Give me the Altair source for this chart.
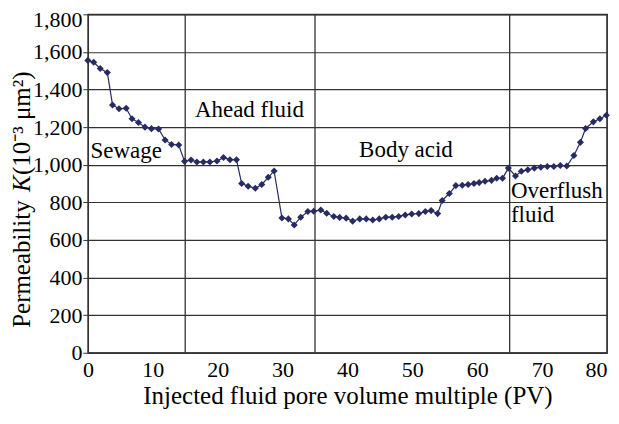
import altair as alt
import pandas as pd

pv = [0, 0.9, 1.9, 3.0, 3.8, 4.8, 5.9, 6.8, 7.8, 8.8, 9.8, 10.9, 11.9, 12.9, 14.0,
      14.9, 15.9, 16.8, 17.8, 18.8, 19.9, 20.9, 21.9, 22.9, 23.7, 24.7, 25.8, 26.8, 27.8, 28.7,
      29.9, 30.9, 31.8, 32.8, 33.9, 34.8, 35.9, 36.8, 37.9, 38.8, 39.8, 40.8, 41.9, 42.9, 43.9,
      44.9, 45.9, 46.9, 47.9, 48.9, 49.9, 51.0, 52.0, 52.9, 53.9, 54.6, 55.7, 56.7, 57.7, 58.6,
      59.5, 60.3, 61.2, 62.2, 63.0, 63.9, 64.8, 65.9, 66.8, 67.8, 68.8, 69.8, 70.8, 71.8, 72.8,
      73.8, 74.9, 75.9, 76.7, 77.9, 78.9, 79.9]
perm = [1555, 1545, 1512, 1490, 1318, 1298, 1300, 1245, 1225, 1200, 1192, 1190, 1132, 1108, 1105,
        1018, 1025, 1015, 1015, 1015, 1020, 1038, 1027, 1027, 900, 886, 875, 895, 933, 967,
        717, 712, 680, 721, 751, 753, 759, 742, 725, 720, 716, 700, 712, 712, 706,
        712, 721, 721, 725, 733, 738, 740, 751, 756, 740, 810, 847, 889, 891, 895,
        900, 905, 912, 917, 928, 928, 982, 940, 965, 973, 982, 987, 991, 991, 996,
        993, 1049, 1119, 1193, 1228, 1245, 1263]

stage_bounds = [15, 35, 65, 80]
labels = ["Sewage", "Ahead fluid", "Body acid", "Overflush", "fluid"]
label_x = [0.4, 16.5, 41.8, 65.2, 65.2]
label_y = [1074, 1290, 1078, 862, 732]

x_ticks = list(range(0, 81, 10))
y_ticks = list(range(0, 1801, 200))

y_title_parts = ["Permeability ", "K", " (10⁻³ μm²)"]
y_title_styles = ["normal", "italic", "normal"]

FONT = "Liberation Serif"
NAVY = "#282b62"
GRID = "#333333"

df = pd.DataFrame({"pv": pv, "k": perm})
bounds = pd.DataFrame({"b": stage_bounds})
ann = pd.DataFrame({"t": labels, "x": label_x, "y": label_y})

xs = alt.Scale(domain=[0, 80], nice=False)
ys = alt.Scale(domain=[0, 1800], nice=False)

x_axis = alt.Axis(values=x_ticks, title="Injected fluid pore volume multiple (PV)",
                  grid=False, ticks=False, labelPadding=7, titlePadding=3,
                  labelOverlap=False,
                  labelAlign=alt.ExprRef(expr="datum.value == 80 ? 'right' : 'center'"))
y_axis = alt.Axis(values=y_ticks, format=",d", title=None,
                  grid=True, ticks=True, tickSize=5, labelPadding=1,
                  labelOverlap=False, labelFlush=False,
                  labelOffset=alt.ExprRef(expr="datum.value == 1800 ? 5 : 0"))

X = alt.X("pv:Q", scale=xs, axis=x_axis)
Y = alt.Y("k:Q", scale=ys, axis=y_axis)

line = alt.Chart(df).mark_line(color=NAVY, strokeWidth=1.2).encode(x=X, y=Y)
pts = alt.Chart(df).mark_point(shape="diamond", filled=True, color=NAVY, size=50, opacity=1).encode(x=X, y=Y)
rules = alt.Chart(bounds).mark_rule(color=GRID, strokeWidth=1.3).encode(
    x=alt.X("b:Q", scale=xs, axis=x_axis)
)
text = alt.Chart(ann).mark_text(align="left", baseline="middle", font=FONT, fontSize=23, color="black").encode(
    x=alt.X("x:Q", scale=xs, axis=x_axis), y=alt.Y("y:Q", scale=ys, axis=y_axis), text="t:N"
)

title_layers = []
offsets = [0, 136, 153]
for part, style, off in zip(y_title_parts, y_title_styles, offsets):
    title_layers.append(
        alt.Chart(pd.DataFrame({"t": [part]})).mark_text(
            align="left", baseline="middle", angle=270, font=FONT, fontSize=25,
            fontStyle=style, color="black"
        ).encode(x=alt.value(-66), y=alt.value(314 - off), text="t:N")
    )

chart = alt.layer(rules, line, pts, text, *title_layers).properties(
    width=520, height=339,
    padding={"left": 80, "top": 6, "right": 4, "bottom": 56},
    autosize=alt.AutoSizeParams(type="none"),
).configure_view(stroke=GRID, strokeWidth=1.3).configure_axis(
    labelFont=FONT, titleFont=FONT, labelFontSize=22, titleFontSize=25,
    labelColor="black", titleColor="black", titleFontWeight="normal",
    domainColor=GRID, tickColor=GRID, gridColor=GRID,
    gridOpacity=1, gridWidth=1.2, domainWidth=1.3,
)

chart.save("out.html", embed_options={"renderer": "svg", "actions": False})
